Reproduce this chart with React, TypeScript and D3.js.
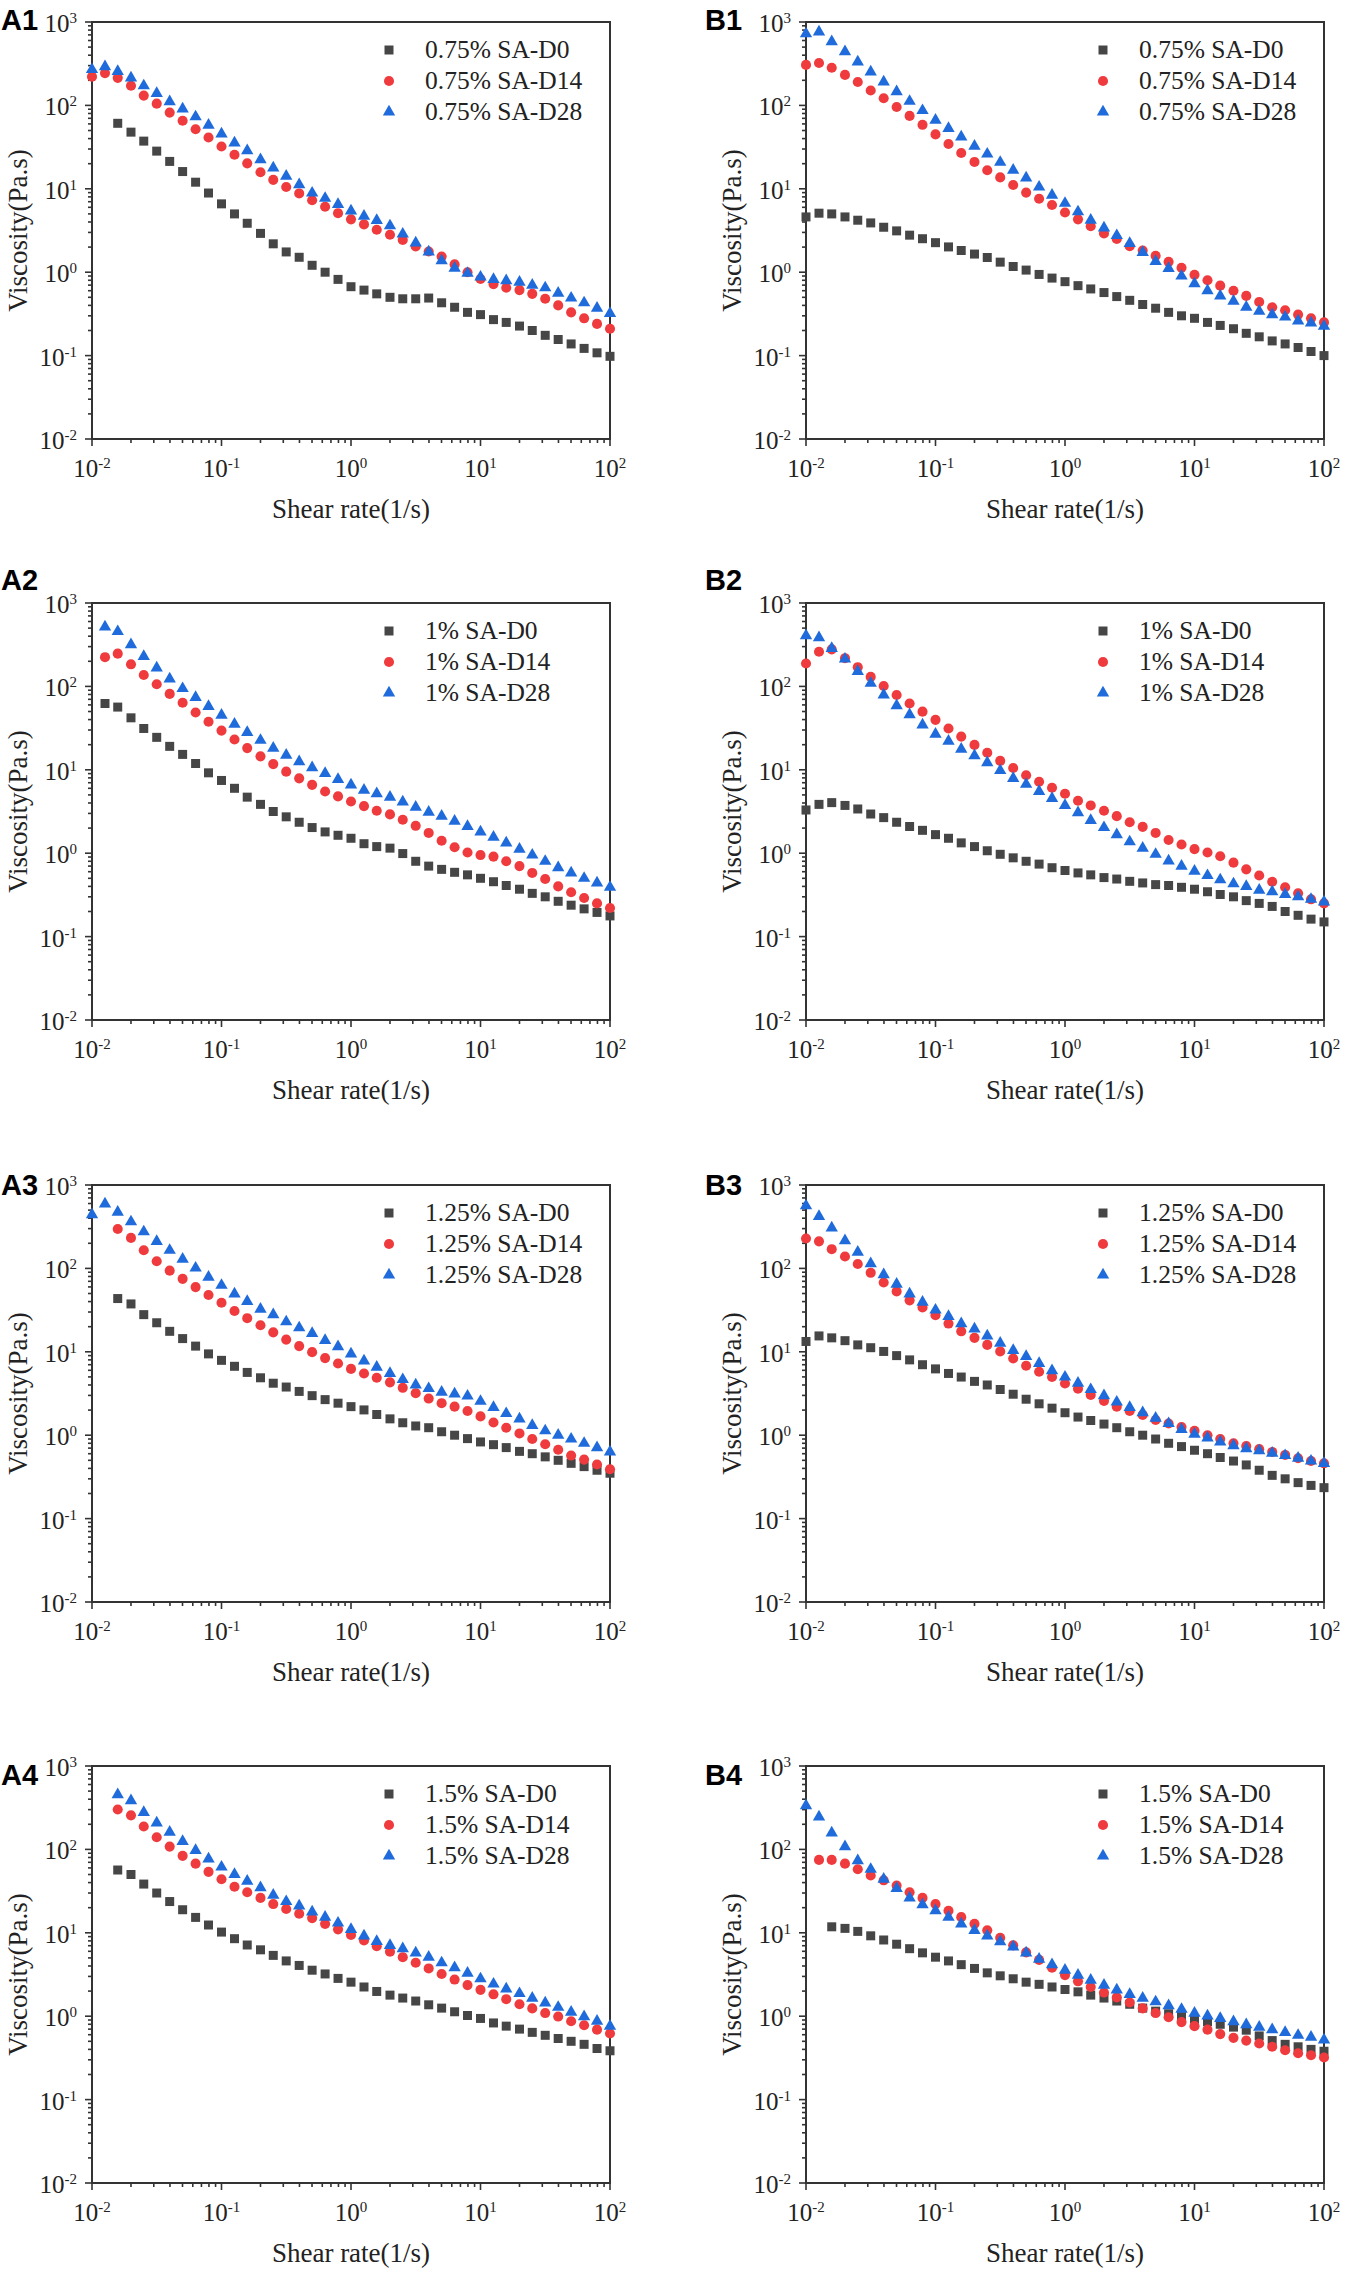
import { useEffect, useRef } from "react";
import * as d3 from "d3";

// shear rate (1/s), 10 points per decade
const SHEAR_RATE = [
  0.01, 0.0126, 0.0158, 0.02, 0.0251, 0.0316, 0.0398, 0.0501, 0.0631, 0.0794,
  0.1, 0.126, 0.158, 0.2, 0.251, 0.316, 0.398, 0.501, 0.631, 0.794,
  1, 1.26, 1.58, 2, 2.51, 3.16, 3.98, 5.01, 6.31, 7.94,
  10, 12.6, 15.8, 20, 25.1, 31.6, 39.8, 50.1, 63.1, 79.4, 100,
];

const X_EXPONENTS = [-2, -1, 0, 1, 2];
const Y_EXPONENTS = [-2, -1, 0, 1, 2, 3];

const PANEL_LABELS = ["A1", "B1", "A2", "B2", "A3", "B3", "A4", "B4"];
const CONCENTRATIONS = ["0.75%", "1%", "1.25%", "1.5%"];
const SERIES_NAMES = ["SA-D0", "SA-D14", "SA-D28"];
const SERIES_COLORS = ["#464646", "#ef3b3d", "#1f6bdb"];

// viscosity (Pa.s); null where no point is plotted
const A1_D0 = [null, null, 61, 47.8, 37.3, 28.3, 21.3, 16.1, 12.0, 8.9, 6.6, 5.0, 3.86, 2.92, 2.19, 1.75, 1.51, 1.21, 1.0, 0.82, 0.67, 0.61, 0.55, 0.50, 0.48, 0.48, 0.49, 0.43, 0.38, 0.33, 0.31, 0.27, 0.25, 0.226, 0.2, 0.175, 0.156, 0.138, 0.122, 0.108, 0.098];
const A1_D14 = [221, 244, 214, 172, 131, 105, 82, 65.5, 51.7, 41.2, 32.2, 25.6, 20.2, 15.8, 12.8, 10.5, 8.8, 7.3, 6.1, 5.1, 4.3, 3.74, 3.23, 2.81, 2.44, 2.03, 1.77, 1.54, 1.24, 1.0, 0.83, 0.72, 0.65, 0.61, 0.55, 0.48, 0.40, 0.33, 0.28, 0.24, 0.21];
const A1_D28 = [269, 291, 256, 214, 172, 139, 111, 90.8, 73, 58, 45.5, 35.5, 28.6, 22.3, 17.8, 14.2, 11.2, 8.9, 7.7, 6.5, 5.44, 4.7, 4.17, 3.6, 2.87, 2.24, 1.75, 1.37, 1.12, 0.97, 0.875, 0.82, 0.79, 0.76, 0.70, 0.65, 0.56, 0.49, 0.43, 0.37, 0.32];

const B1_D0 = [4.6, 5.1, 5.0, 4.6, 4.2, 3.9, 3.46, 3.13, 2.78, 2.52, 2.26, 2.01, 1.82, 1.65, 1.5, 1.32, 1.17, 1.06, 0.94, 0.85, 0.77, 0.69, 0.63, 0.57, 0.51, 0.46, 0.41, 0.37, 0.33, 0.30, 0.28, 0.25, 0.23, 0.21, 0.185, 0.168, 0.15, 0.138, 0.125, 0.112, 0.10];
const B1_D14 = [306, 322, 283, 232, 191, 151, 122, 95.7, 74.8, 58.5, 44.9, 34.4, 26.9, 21.0, 16.7, 13.7, 11.1, 9.0, 7.6, 6.4, 5.2, 4.3, 3.56, 2.92, 2.5, 2.05, 1.82, 1.57, 1.33, 1.13, 0.93, 0.80, 0.69, 0.60, 0.52, 0.44, 0.38, 0.35, 0.31, 0.28, 0.25];
const B1_D28 = [722, 759, 582, 442, 332, 252, 191, 146, 112, 86.8, 66.5, 53, 41.8, 32.4, 26.1, 20.8, 16.7, 13.5, 10.5, 8.4, 6.7, 5.3, 4.2, 3.39, 2.75, 2.22, 1.73, 1.35, 1.11, 0.90, 0.73, 0.60, 0.52, 0.45, 0.38, 0.34, 0.31, 0.29, 0.26, 0.246, 0.225];

const A2_D0 = [null, 62.4, 56.5, 42, 31.3, 24.5, 19.1, 15.3, 11.9, 9.2, 7.45, 6.0, 4.7, 3.85, 3.16, 2.73, 2.35, 2.03, 1.8, 1.64, 1.51, 1.30, 1.2, 1.15, 0.99, 0.80, 0.70, 0.64, 0.59, 0.55, 0.50, 0.455, 0.41, 0.37, 0.33, 0.30, 0.265, 0.238, 0.215, 0.195, 0.177];
const A2_D14 = [null, 224, 247, 184, 137, 106, 81.3, 63.6, 48.7, 37.7, 29.5, 23.1, 18.2, 14.5, 11.7, 9.5, 7.9, 6.6, 5.5, 4.8, 4.17, 3.67, 3.23, 2.92, 2.52, 2.13, 1.75, 1.41, 1.18, 1.02, 0.95, 0.91, 0.80, 0.70, 0.58, 0.49, 0.40, 0.34, 0.29, 0.25, 0.22];
const A2_D28 = [null, 518, 455, 316, 229, 167, 123, 94.3, 73.7, 57.7, 45.1, 35.3, 28.1, 22.6, 18.2, 15.0, 12.5, 10.6, 9.06, 7.67, 6.6, 5.7, 5.17, 4.7, 4.12, 3.56, 3.1, 2.78, 2.42, 2.09, 1.80, 1.56, 1.33, 1.12, 0.95, 0.80, 0.67, 0.58, 0.50, 0.44, 0.39];

const B2_D0 = [3.3, 3.85, 4.04, 3.74, 3.39, 2.95, 2.67, 2.35, 2.09, 1.88, 1.67, 1.51, 1.33, 1.2, 1.07, 0.97, 0.88, 0.80, 0.74, 0.67, 0.62, 0.58, 0.55, 0.51, 0.49, 0.46, 0.44, 0.42, 0.41, 0.39, 0.37, 0.345, 0.32, 0.30, 0.27, 0.25, 0.23, 0.20, 0.18, 0.162, 0.15];
const B2_D14 = [188, 260, 278, 218, 170, 130, 101, 78.9, 62.4, 49.8, 39.7, 31.3, 25, 19.9, 16.0, 12.8, 10.5, 8.6, 7.2, 6.1, 5.17, 4.25, 3.74, 3.23, 2.78, 2.35, 2.07, 1.75, 1.44, 1.27, 1.12, 1.02, 0.92, 0.77, 0.64, 0.54, 0.455, 0.39, 0.33, 0.28, 0.25];
const B2_D28 = [405, 385, 286, 213, 151, 109, 78.9, 58.7, 45.9, 34.5, 26.7, 22, 17.7, 14.8, 12.2, 9.8, 7.9, 6.7, 5.5, 4.55, 3.74, 3.07, 2.47, 2.03, 1.67, 1.37, 1.15, 0.97, 0.81, 0.70, 0.61, 0.54, 0.48, 0.43, 0.40, 0.36, 0.345, 0.32, 0.30, 0.28, 0.26];

const A3_D0 = [null, null, 43.5, 37.5, 27.9, 22.3, 17.6, 14.4, 11.7, 9.44, 7.9, 6.7, 5.66, 4.88, 4.2, 3.78, 3.35, 2.98, 2.67, 2.42, 2.2, 2.01, 1.77, 1.57, 1.41, 1.29, 1.23, 1.10, 1.0, 0.91, 0.83, 0.77, 0.71, 0.64, 0.60, 0.55, 0.50, 0.46, 0.42, 0.38, 0.35];
const A3_D14 = [null, null, 297, 232, 165, 122, 94, 74.9, 59.7, 48, 38.7, 30.8, 25.3, 20.8, 17.1, 14.0, 11.7, 9.9, 8.4, 7.24, 6.24, 5.5, 4.88, 4.3, 3.7, 3.19, 2.75, 2.42, 2.2, 1.95, 1.68, 1.42, 1.23, 1.05, 0.90, 0.78, 0.67, 0.57, 0.51, 0.445, 0.39];
const A3_D28 = [442, 593, 473, 362, 275, 211, 165, 129, 101, 78.7, 62.7, 49.4, 40.2, 32.4, 27.9, 22.9, 19.4, 16.6, 13.7, 11.5, 9.44, 7.76, 6.56, 5.5, 4.65, 4.0, 3.63, 3.29, 3.13, 2.95, 2.55, 2.15, 1.82, 1.57, 1.31, 1.13, 1.0, 0.90, 0.80, 0.71, 0.63];

const B3_D0 = [13.3, 15.5, 14.7, 13.6, 12.1, 11.2, 10.1, 9.0, 8.0, 7.0, 6.24, 5.5, 4.98, 4.42, 4.0, 3.53, 3.1, 2.7, 2.38, 2.11, 1.86, 1.65, 1.5, 1.36, 1.23, 1.1, 1.0, 0.9, 0.8, 0.73, 0.66, 0.60, 0.54, 0.49, 0.44, 0.38, 0.33, 0.30, 0.27, 0.25, 0.235];
const B3_D14 = [228, 211, 170, 139, 113, 88.5, 67.8, 53, 41.4, 34, 27.4, 21.8, 17.6, 14.7, 12.1, 10.1, 8.3, 6.8, 5.77, 4.98, 4.17, 3.6, 3.04, 2.57, 2.2, 1.95, 1.75, 1.52, 1.38, 1.25, 1.13, 1.0, 0.90, 0.80, 0.74, 0.68, 0.63, 0.58, 0.53, 0.49, 0.46];
const B3_D28 = [563, 420, 306, 215, 157, 114, 84.2, 64.6, 49.4, 39.4, 31.7, 26.6, 21.8, 18.8, 15.5, 12.7, 10.4, 8.8, 7.24, 5.94, 4.98, 4.21, 3.53, 2.98, 2.5, 2.15, 1.86, 1.6, 1.38, 1.17, 1.03, 0.93, 0.83, 0.75, 0.69, 0.65, 0.61, 0.57, 0.53, 0.49, 0.46];

const A4_D0 = [null, null, 56.6, 50, 38.4, 30, 23.7, 18.9, 15.3, 12.4, 10.2, 8.5, 7.14, 6.25, 5.36, 4.6, 4.06, 3.56, 3.21, 2.84, 2.56, 2.24, 1.98, 1.79, 1.65, 1.52, 1.37, 1.25, 1.13, 1.02, 0.94, 0.83, 0.76, 0.70, 0.64, 0.59, 0.54, 0.50, 0.46, 0.41, 0.385];
const A4_D14 = [null, null, 301, 256, 188, 140, 108, 83.7, 67.5, 53.8, 43.8, 35.7, 30.6, 26.2, 22.1, 19.3, 16.9, 15, 12.8, 11, 9.4, 8.1, 6.9, 5.94, 5.1, 4.37, 3.74, 3.21, 2.75, 2.36, 2.07, 1.83, 1.6, 1.39, 1.24, 1.09, 0.99, 0.87, 0.78, 0.69, 0.62];
const A4_D28 = [null, null, 454, 385, 277, 208, 161, 125, 97.5, 77, 61.5, 50.1, 41.7, 34.7, 28.2, 23.7, 21, 17.8, 15.4, 13.1, 11, 9.2, 7.9, 7.07, 6.45, 5.75, 5.1, 4.37, 3.82, 3.28, 2.81, 2.43, 2.13, 1.87, 1.65, 1.44, 1.28, 1.12, 0.99, 0.87, 0.76];

const B4_D0 = [null, null, 11.8, 11.3, 10.4, 9.2, 8.2, 7.3, 6.45, 5.75, 5.1, 4.6, 4.15, 3.74, 3.31, 3.05, 2.81, 2.56, 2.41, 2.24, 2.09, 1.96, 1.79, 1.65, 1.52, 1.39, 1.25, 1.15, 1.07, 0.99, 0.92, 0.86, 0.80, 0.74, 0.68, 0.58, 0.51, 0.46, 0.43, 0.40, 0.38];
const B4_D14 = [null, 74.8, 74.8, 67.5, 57.8, 48.6, 42.6, 36.8, 30.6, 26.2, 22.1, 18.4, 15.4, 12.8, 10.7, 8.7, 7.07, 5.82, 4.74, 3.82, 3.11, 2.62, 2.24, 1.92, 1.68, 1.46, 1.24, 1.09, 0.97, 0.85, 0.76, 0.69, 0.61, 0.55, 0.51, 0.47, 0.43, 0.39, 0.36, 0.34, 0.32];
const B4_D28 = [334, 245, 158, 108, 73.3, 57.8, 43.9, 34, 26.2, 21.8, 18.4, 15.4, 12.8, 10.7, 9.2, 7.83, 6.79, 5.75, 4.84, 4.15, 3.56, 3.11, 2.7, 2.36, 2.07, 1.83, 1.65, 1.49, 1.34, 1.21, 1.09, 1.01, 0.94, 0.86, 0.79, 0.74, 0.69, 0.64, 0.59, 0.56, 0.52];

// panels in reading order (row by row, A then B)
const PANEL_SERIES = [
  [A1_D0, A1_D14, A1_D28],
  [B1_D0, B1_D14, B1_D28],
  [A2_D0, A2_D14, A2_D28],
  [B2_D0, B2_D14, B2_D28],
  [A3_D0, A3_D14, A3_D28],
  [B3_D0, B3_D14, B3_D28],
  [A4_D0, A4_D14, A4_D28],
  [B4_D0, B4_D14, B4_D28],
];

const WIDTH = 1350;
const HEIGHT = 2272;
const FRAME_W = 518;
const FRAME_H = 417;
const COL_LEFT = [92, 806];
const ROW_TOP = [22, 603, 1185, 1766];
const LABEL_X = [1, 705];
const LABEL_DY = [8, -13, 10, 19];

const SERIF = "'Liberation Serif', 'Times New Roman', serif";
const AXIS = "#333";

const isDecade = (v: number) => Math.abs(Math.log10(v) - Math.round(Math.log10(v))) < 1e-6;

export default function App() {
  const ref = useRef<SVGSVGElement>(null);

  useEffect(() => {
    document.body.style.margin = "0";
    if (!ref.current) return;
    const svg = d3.select(ref.current);
    svg.selectAll("*").remove();

    const symbols = [d3.symbolSquare, d3.symbolCircle, d3.symbolTriangle];
    const sizes = [81, 80, 66];

    PANEL_SERIES.forEach((series, i) => {
      const row = Math.floor(i / 2);
      const col = i % 2;
      const left = COL_LEFT[col];
      const top = ROW_TOP[row];
      const bottom = top + FRAME_H;

      const x = d3.scaleLog().domain([1e-2, 1e2]).range([left, left + FRAME_W]);
      const y = d3.scaleLog().domain([1e-2, 1e3]).range([bottom, top]);

      const g = svg.append("g");

      // ticks (outward)
      x.ticks().forEach((v) => {
        const len = isDecade(v) ? 7 : 4;
        g.append("line")
          .attr("x1", x(v)).attr("x2", x(v))
          .attr("y1", bottom).attr("y2", bottom + len)
          .attr("stroke", AXIS).attr("stroke-width", 1.6);
      });
      y.ticks().forEach((v) => {
        const len = isDecade(v) ? 7 : 4;
        g.append("line")
          .attr("x1", left - len).attr("x2", left)
          .attr("y1", y(v)).attr("y2", y(v))
          .attr("stroke", AXIS).attr("stroke-width", 1.6);
      });

      // frame
      g.append("rect")
        .attr("x", left).attr("y", top)
        .attr("width", FRAME_W).attr("height", FRAME_H)
        .attr("fill", "none").attr("stroke", AXIS).attr("stroke-width", 2);

      // tick labels
      X_EXPONENTS.forEach((e) => {
        const t = g.append("text")
          .attr("x", x(Math.pow(10, e)))
          .attr("y", bottom + 38)
          .attr("text-anchor", "middle")
          .attr("font-family", SERIF).attr("font-size", 25).attr("fill", "#222");
        t.append("tspan").text("10");
        t.append("tspan").attr("font-size", 15).attr("dy", -9).text(String(e));
      });
      Y_EXPONENTS.forEach((e) => {
        const t = g.append("text")
          .attr("x", left - 15)
          .attr("y", y(Math.pow(10, e)) + 10)
          .attr("text-anchor", "end")
          .attr("font-family", SERIF).attr("font-size", 25).attr("fill", "#222");
        t.append("tspan").text("10");
        t.append("tspan").attr("font-size", 15).attr("dy", -9).text(String(e));
      });

      // axis titles
      g.append("text")
        .attr("x", left + FRAME_W / 2)
        .attr("y", bottom + 79)
        .attr("text-anchor", "middle")
        .attr("font-family", SERIF).attr("font-size", 27).attr("fill", "#222")
        .text("Shear rate(1/s)");
      g.append("text")
        .attr("transform", `translate(${left - 65},${top + FRAME_H / 2}) rotate(-90)`)
        .attr("text-anchor", "middle")
        .attr("font-family", SERIF).attr("font-size", 27).attr("fill", "#222")
        .text("Viscosity(Pa.s)");

      // panel label
      g.append("text")
        .attr("x", LABEL_X[col])
        .attr("y", top + LABEL_DY[row])
        .attr("font-family", "'Liberation Sans', Arial, sans-serif")
        .attr("font-weight", "bold").attr("font-size", 29).attr("fill", "#000")
        .text(PANEL_LABELS[i]);

      // markers
      series.forEach((vals, s) => {
        const pts = SHEAR_RATE.map((r, k) => ({ r, v: vals[k] })).filter((d) => d.v != null) as { r: number; v: number }[];
        g.append("g")
          .selectAll("path")
          .data(pts)
          .join("path")
          .attr("transform", (d) => `translate(${x(d.r)},${y(d.v)})`)
          .attr("d", d3.symbol(symbols[s], sizes[s])())
          .attr("fill", SERIES_COLORS[s]);
      });

      // legend
      SERIES_NAMES.forEach((name, s) => {
        const cy = top + 28 + s * 31;
        g.append("path")
          .attr("transform", `translate(${left + 297},${cy})`)
          .attr("d", d3.symbol(symbols[s], sizes[s])())
          .attr("fill", SERIES_COLORS[s]);
        g.append("text")
          .attr("x", left + 333)
          .attr("y", cy + 8)
          .attr("font-family", SERIF).attr("font-size", 25.5).attr("fill", "#222")
          .text(`${CONCENTRATIONS[row]} ${name}`);
      });
    });
  }, []);

  return <svg ref={ref} width={WIDTH} height={HEIGHT} style={{ display: "block", background: "#fff" }} />;
}
